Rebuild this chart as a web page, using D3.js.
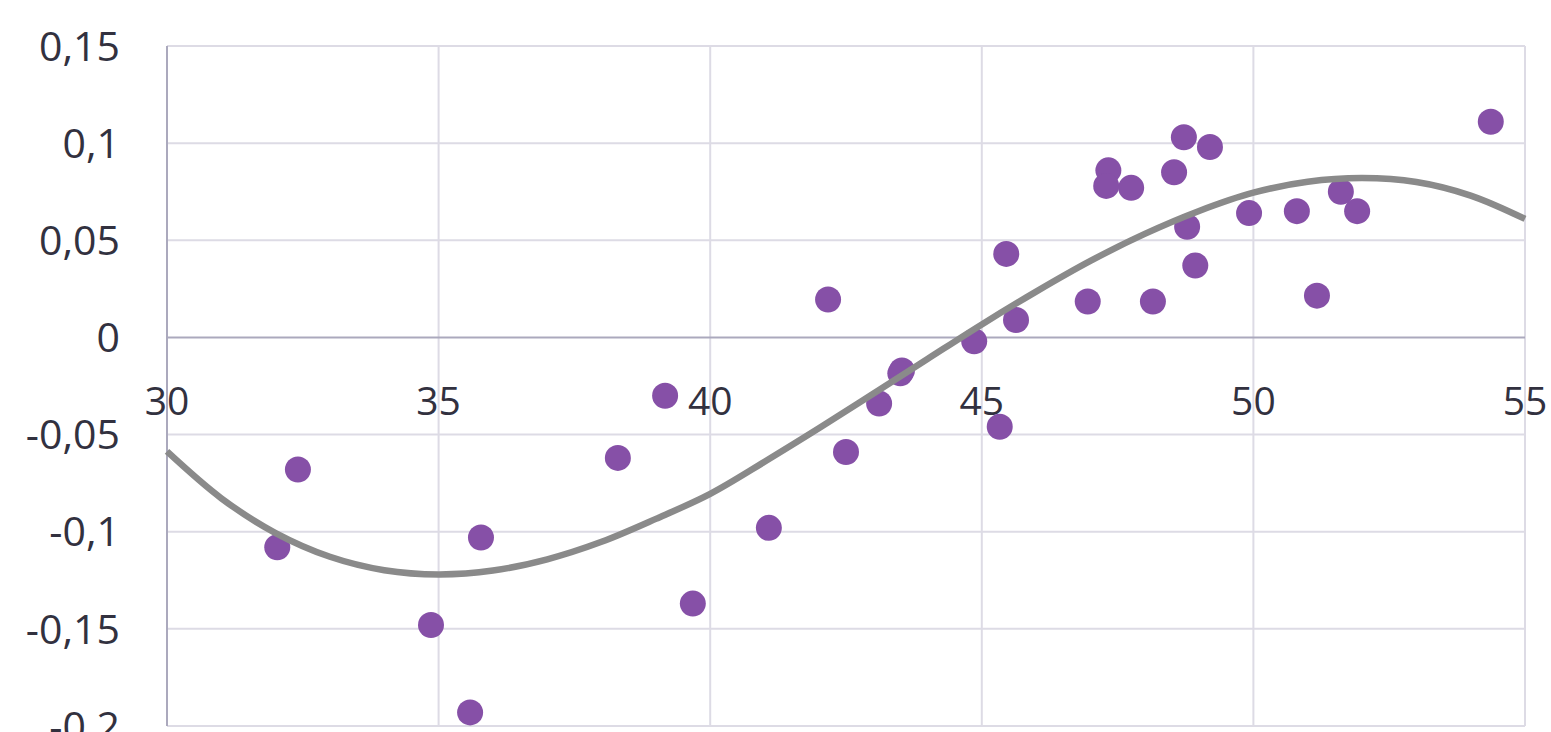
<!DOCTYPE html>
<html><head><meta charset="utf-8">
<script src="https://cdn.jsdelivr.net/npm/d3@7"></script>
<style>html,body{margin:0;padding:0;background:#fff;overflow:hidden}svg{display:block}</style>
</head><body>
<svg id="chart" width="1551" height="732"></svg>
<script>
// Scatter data (x, y)
const pointX = [32.03, 32.41, 34.86, 35.58, 35.78, 38.30, 39.17, 39.68, 41.08, 42.17, 42.50, 43.11, 43.50, 43.53, 44.86, 45.33, 45.45, 45.63, 46.95, 47.33, 47.29, 47.75, 48.15, 48.54, 48.72, 48.78, 48.93, 49.20, 49.92, 50.80, 51.17, 51.61, 51.91, 54.37];
const pointY = [-0.108, -0.068, -0.148, -0.193, -0.103, -0.062, -0.030, -0.137, -0.098, 0.0195, -0.059, -0.034, -0.0185, -0.017, -0.002, -0.046, 0.043, 0.009, 0.0185, 0.086, 0.078, 0.077, 0.0185, 0.085, 0.103, 0.057, 0.037, 0.098, 0.064, 0.065, 0.0215, 0.075, 0.065, 0.111];
// Trendline values at integer x
const trendX = [30,31,32,33,34,35,36,37,38,39,40,41,42,43,44,45,46,47,48,49,50,51,52,53,54,55];
const trendY = [-0.0587,-0.0828,-0.1007,-0.1129,-0.1198,-0.1220,-0.1200,-0.1142,-0.1052,-0.0934,-0.0805,-0.0640,-0.0468,-0.0290,-0.0111,0.0067,0.0236,0.0394,0.0533,0.0651,0.0745,0.0801,0.0820,0.0800,0.0730,0.0610];
const xTicks = [30,35,40,45,50,55];
const yTicks = [-0.2,-0.15,-0.1,-0.05,0,0.05,0.1,0.15];
const yTickLabels = ["-0,2","-0,15","-0,1","-0,05","0","0,05","0,1","0,15"];

const svg = d3.select("#chart");
const x = d3.scaleLinear().domain([30,55]).range([167,1525]);
const y = d3.scaleLinear().domain([-0.2,0.15]).range([726,46]);
const font = "'Open Sans', 'Noto Sans', sans-serif";
const textColor = "#32313f";

// vertical grid
svg.append("g").selectAll("line").data(xTicks.slice(1)).join("line")
  .attr("x1", d=>x(d)).attr("x2", d=>x(d)).attr("y1", y(0.15)).attr("y2", y(-0.2))
  .attr("stroke", "#dddbe5").attr("stroke-width", 2);
// horizontal grid
svg.append("g").selectAll("line").data(yTicks.filter(d=>d!==0)).join("line")
  .attr("x1", x(30)).attr("x2", x(55)).attr("y1", d=>y(d)).attr("y2", d=>y(d))
  .attr("stroke", "#dddbe5").attr("stroke-width", 2);
// axes lines
svg.append("line").attr("x1", x(30)).attr("x2", x(30)).attr("y1", y(0.15)).attr("y2", y(-0.2))
  .attr("stroke", "#aba9bd").attr("stroke-width", 2);
svg.append("line").attr("x1", x(30)).attr("x2", x(55)).attr("y1", y(0)).attr("y2", y(0))
  .attr("stroke", "#aba9bd").attr("stroke-width", 2);

// y tick labels
svg.append("g").selectAll("text").data(yTicks).join("text")
  .attr("x", 120).attr("y", d=>y(d)).attr("dy", "0.36em")
  .attr("text-anchor", "end").attr("font-family", font).attr("font-size", 41)
  .attr("fill", textColor).text((d,i)=>yTickLabels[i]);
// x tick labels
svg.append("g").selectAll("text").data(xTicks).join("text")
  .attr("x", d=>x(d)).attr("y", y(0) + 78)
  .attr("text-anchor", "middle").attr("font-family", font).attr("font-size", 39)
  .attr("fill", textColor).text(d=>d);

// points
const pts = pointX.map((v,i)=>({x:v, y:pointY[i]}));
svg.append("g").selectAll("circle").data(pts).join("circle")
  .attr("cx", d=>x(d.x)).attr("cy", d=>y(d.y)).attr("r", 13)
  .attr("fill", "#8650a7");

// trendline
const tr = trendX.map((v,i)=>({x:v, y:trendY[i]}));
svg.append("path").datum(tr)
  .attr("d", d3.line().x(d=>x(d.x)).y(d=>y(d.y)).curve(d3.curveCatmullRom))
  .attr("fill", "none").attr("stroke", "#8a8a8a").attr("stroke-width", 6.5);
</script>
</body></html>
